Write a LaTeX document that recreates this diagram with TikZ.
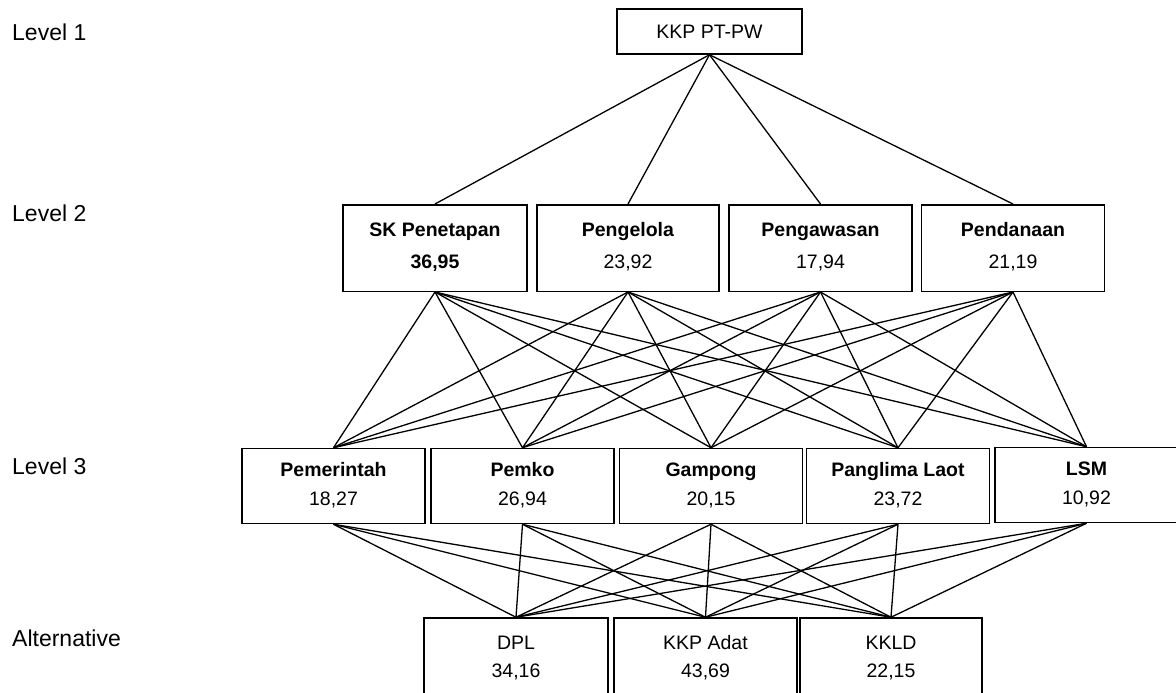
\documentclass[tikz,border=0pt]{standalone}
\usepackage{fontspec}
\setmainfont{Liberation Sans}
\newcommand\twoline[3]{#1\strut\\[#3]#2\strut}
\begin{document}
\begin{tikzpicture}[x=1pt,y=-1pt,
  box/.style={draw, line width=1.5pt, inner sep=0pt, minimum width=183pt, align=center,
    font=\fontsize{19.5}{24}\selectfont},
  topbox/.style={box, minimum width=185pt, minimum height=45pt},
  critbox/.style={box, minimum height=86.5pt},
  subbox/.style={box, minimum height=75pt},
  altbox/.style={box, minimum height=81pt},
  lvl/.style={anchor=west, inner sep=0pt, font=\fontsize{23}{27}\selectfont},
  link/.style={line width=1.3pt}]
\useasboundingbox (0,0) rectangle (1176,693);

% level labels
\node[lvl] (l1) at (12,32) {Level 1};
\node[lvl] (l2) at (12,213) {Level 2};
\node[lvl] (l3) at (12,466) {Level 3};
\node[lvl] (l4) at (12,638) {Alternative};

% level 1
\node[topbox] (g) at (709.5,31.5) {KKP PT-PW};

% level 2
\node[critbox, minimum width=184pt] (c1) at (435,248) {\twoline{\textbf{SK Penetapan}}{\textbf{36,95}}{8pt}};
\node[critbox, minimum width=182pt] (c2) at (628,248) {\twoline{\textbf{Pengelola}}{23,92}{8pt}};
\node[critbox] (c3) at (820.5,248) {\twoline{\textbf{Pengawasan}}{17,94}{8pt}};
\node[critbox] (c4) at (1013,248) {\twoline{\textbf{Pendanaan}}{21,19}{8pt}};

% level 3
\node[subbox] (s1) at (333.5,486) {\twoline{\textbf{Pemerintah}}{18,27}{5pt}};
\node[subbox] (s2) at (522.5,486) {\twoline{\textbf{Pemko}}{26,94}{5pt}};
\node[subbox] (s3) at (711,486) {\twoline{\textbf{Gampong}}{20,15}{5pt}};
\node[subbox] (s4) at (898,486) {\twoline{\textbf{Panglima Laot}}{23,72}{5pt}};
\node[subbox] (s5) at (1086.5,485) {\twoline{\textbf{LSM}}{10,92}{5pt}};

% alternatives
\node[altbox, minimum width=184pt] (a1) at (516,658.5) {\twoline{DPL}{34,16}{4pt}};
\node[altbox] (a2) at (705.5,658.5) {\twoline{KKP Adat}{43,69}{4pt}};
\node[altbox, minimum width=182pt] (a3) at (891,658.5) {\twoline{KKLD}{22,15}{4pt}};

% connectors
\foreach \c in {c1,c2,c3,c4}
  \draw[link] (g.south) -- (\c.north);
\foreach \c in {c1,c2,c3,c4}
  \foreach \s in {s1,s2,s3,s4,s5}
    \draw[link] (\c.south) -- (\s.north);
\foreach \s in {s1,s2,s3,s4,s5}
  \foreach \a in {a1,a2,a3}
    \draw[link] (\s.south) -- (\a.north);
\end{tikzpicture}
\end{document}
